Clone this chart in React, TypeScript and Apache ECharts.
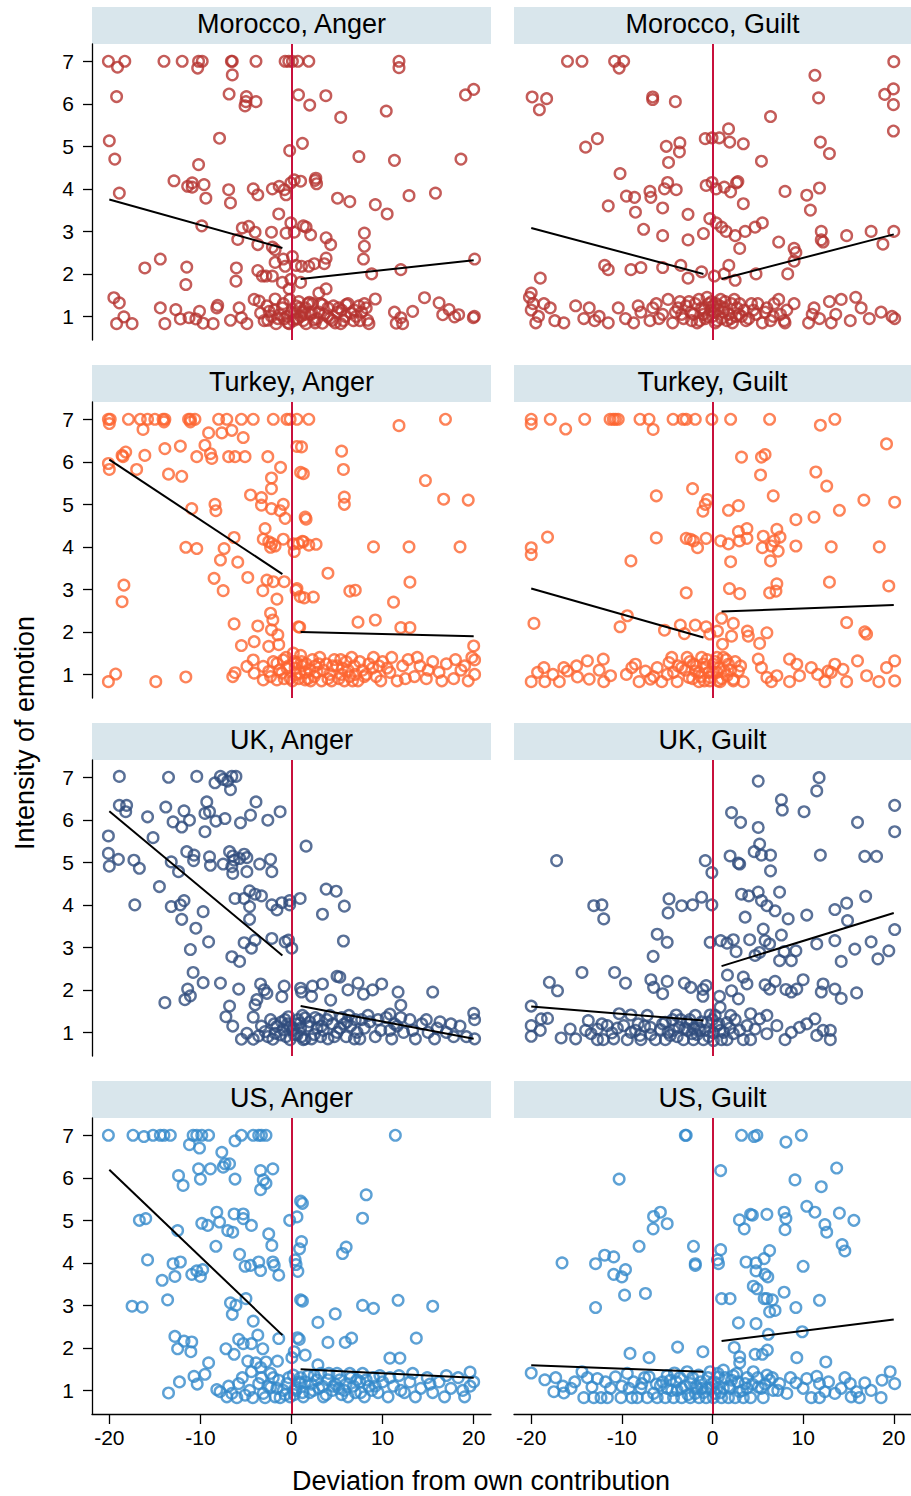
import React, { useEffect, useRef } from "react";
import * as echarts from "echarts";

// Deviation from own contribution (x) vs. intensity of emotion (y), one array per panel
const moroccoAnger: number[][] = [
  [-20.1, 7], [-18.3, 7], [-14, 7], [-12, 7], [-10.2, 7], [-9.8, 7], [-6.6, 7], [-6.5, 7], [-3.9, 7], [-0.7, 7], [-0.3, 7], [0.1, 7], [0.7, 7], [1.9, 7], [11.8, 7],
  [-19.1, 6.86], [-10.3, 6.84], [11.8, 6.85], [-6.5, 6.68],
  [-19.2, 6.17], [-6.85, 6.23], [-4.95, 6.17], [-3.9, 6.05], [-5.1, 5.95], [-5.0, 6.05], [0.77, 6.21], [3.77, 6.19], [2.0, 5.97], [5.4, 5.68], [10.4, 5.83], [19.1, 6.21], [20.0, 6.34],
  [-20.0, 5.13], [-7.9, 5.19], [1.2, 5.07], [-0.2, 4.9], [-19.4, 4.7], [-10.2, 4.57], [7.4, 4.76], [11.3, 4.67], [18.6, 4.7],
  [-18.9, 3.9], [-12.9, 4.19], [-11.4, 4.06], [-10.9, 4.14], [-10.9, 4.04], [-9.6, 4.1], [-9.4, 3.78], [-6.9, 3.98], [-6.7, 3.67], [-4.2, 4.0], [-3.7, 3.86], [-2.1, 4.0], [-1.35, 4.06], [-0.77, 3.98], [-0.6, 3.86], [-0.07, 4.14], [0.3, 4.21], [1.0, 4.18], [2.6, 4.2], [2.75, 4.12], [2.67, 4.25], [5.05, 3.78], [6.4, 3.7], [9.2, 3.63], [10.5, 3.41], [12.9, 3.84], [15.8, 3.9],
  [-1.4, 3.41], [-9.85, 3.13], [-5.4, 3.08], [-4.7, 3.12], [-5.9, 2.81], [-4.0, 2.98], [-2.2, 2.98], [-0.07, 3.2], [-0.6, 2.96], [0.3, 2.98], [1.3, 3.13], [1.6, 3.1], [2.1, 2.92], [3.8, 2.85], [4.3, 2.69], [8.0, 2.96], [8.0, 2.65], [7.9, 2.35], [-3.7, 2.69], [-2.1, 2.63], [-1.8, 2.57],
  [-16.1, 2.14], [-14.4, 2.35], [-11.5, 2.16], [-11.6, 1.75], [-6.05, 2.14], [-6.1, 1.83], [-3.7, 2.08], [-3.2, 1.95], [-2.8, 1.95], [-2.1, 1.95], [-1.8, 2.27], [-0.9, 2.35], [0.1, 2.41], [-0.7, 2.18], [0.5, 2.2], [1.1, 2.18], [1.9, 2.18], [2.5, 2.24], [3.8, 2.37], [3.6, 2.24], [-1.0, 1.8], [-0.07, 1.87], [1.0, 1.8], [-0.26, 1.65], [3.8, 1.65], [3.0, 1.55], [8.8, 2.0], [12.0, 2.1], [20.1, 2.35],
  [-19.5, 1.44], [-18.9, 1.32], [-14.4, 1.2], [-12.7, 1.16], [-10.1, 1.12], [-8.2, 1.2], [-8.1, 1.26], [-5.75, 1.2], [-4.1, 1.4], [-3.55, 1.36], [-1.8, 1.41], [1.95, 1.33], [3.4, 1.28], [6.0, 1.28], [9.2, 1.41], [14.6, 1.44], [16.2, 1.32], [8.2, 1.2], [13.3, 1.12], [17.3, 1.16],
  [-19.2, 0.83], [-18.4, 0.99], [-17.5, 0.83], [-13.9, 0.83], [-12.2, 0.94], [-11.25, 0.97], [-10.5, 0.94], [-9.7, 0.84], [-8.6, 0.83], [-6.7, 0.91], [-5.5, 0.97], [-4.9, 0.83], [-3.4, 1.08], [-2.45, 1.12], [-2.6, 0.91], [-1.7, 0.83], [-1.3, 1.04], [-0.8, 0.94], [-0.26, 0.83], [0.3, 1.08], [0.66, 0.94], [1.2, 1.1], [1.6, 0.83], [2.1, 1.04], [2.5, 0.92], [3.0, 1.1], [3.4, 0.84], [3.95, 1.0], [4.5, 0.91], [5.05, 1.1], [5.4, 0.83], [5.9, 1.0], [6.5, 1.08], [7.1, 1.0], [7.7, 1.1], [8.35, 0.91], [8.5, 0.83], [11.3, 1.1], [11.5, 0.84], [12.2, 0.83], [12.0, 0.97], [16.6, 1.04], [17.9, 0.99], [18.35, 1.04], [19.96, 0.97], [20.07, 1.0],
  [-1, 1.2], [0.5, 1.25], [1.5, 1.2], [2.3, 1.3], [-0.5, 1.0], [0.2, 0.9], [1.0, 1.0], [2.8, 0.95], [4.0, 1.2], [4.8, 0.85], [5.5, 1.15], [6.8, 0.9], [7.4, 1.25], [-1.5, 0.95], [-2.2, 1.0], [-3, 0.9], [0.8, 1.35], [-0.2, 1.4],
  [-2.7, 1.25], [-1.9, 1.15], [-0.9, 1.3], [0.0, 1.1], [0.4, 0.95], [0.9, 1.2], [1.3, 0.9], [1.8, 1.3], [2.2, 1.1], [2.6, 0.85], [3.2, 1.3], [3.6, 1.05], [4.2, 0.95], [4.6, 1.25], [5.2, 1.2], [5.7, 0.9], [6.2, 1.3], [6.9, 1.15], [7.5, 0.9], [8.0, 1.3], [-0.4, 0.85], [1.5, 1.05],
];

const moroccoGuilt: number[][] = [
  [-16.0, 7], [-14.4, 7], [-10.8, 7], [-9.8, 7], [-10.3, 6.84], [20.0, 6.99], [11.3, 6.67],
  [-19.9, 6.16], [-18.3, 6.12], [-19.1, 5.86], [-6.6, 6.16], [-6.6, 6.1], [-4.1, 6.05], [11.7, 6.14], [19.0, 6.22], [19.96, 6.35], [19.96, 5.98], [6.4, 5.7], [19.96, 5.36],
  [-14.0, 4.98], [-12.7, 5.18], [-5.1, 5.0], [-3.6, 5.08], [-3.65, 4.87], [-4.85, 4.62], [-0.8, 5.18], [-0.05, 5.2], [0.75, 5.2], [1.77, 5.41], [1.9, 5.1], [3.4, 5.06], [5.4, 4.65], [11.9, 5.1], [12.9, 4.83],
  [-10.2, 4.36], [-0.7, 4.08], [-0.05, 4.15], [0.4, 4.0], [1.3, 4.04], [2.65, 4.14], [2.8, 4.17], [2.0, 3.93], [8.0, 3.94], [10.4, 3.85], [11.8, 4.02], [-6.9, 3.94], [-4.95, 4.15], [-4.0, 3.98], [-5.3, 4.0], [-9.5, 3.83], [-8.6, 3.8],
  [-11.5, 3.6], [-8.5, 3.45], [-6.8, 3.8], [-5.5, 3.55], [-2.7, 3.4], [-0.3, 3.3], [1.0, 3.1], [3.4, 3.65], [5.5, 3.2], [10.8, 3.5], [12.0, 3.0], [17.5, 3.0], [20.0, 3.0], [18.8, 2.7], [14.8, 2.9],
  [-7.6, 3.05], [-5.5, 2.9], [-2.7, 2.8], [-1.0, 2.95], [0.4, 3.2], [1.5, 3.0], [2.5, 2.9], [3.6, 3.0], [4.7, 3.1], [3.0, 2.6], [7.3, 2.75], [9.0, 2.6], [9.2, 2.5], [12.0, 2.8], [12.2, 2.75], [9.0, 2.3],
  [-20.0, 1.55], [-19.0, 1.9], [-11.9, 2.2], [-11.5, 2.1], [-9.0, 2.1], [-7.9, 2.15], [-5.5, 2.15], [-3.5, 2.2], [-1.2, 2.05], [0.2, 1.95], [1.3, 2.0], [1.8, 2.2], [2.5, 1.85], [4.8, 2.0], [8.3, 2.0], [-2.7, 1.9],
  [-20.2, 1.45], [-19.8, 1.3], [-19.5, 0.85], [-19.2, 1.0], [-18.6, 1.3], [-17.4, 0.9], [-16.4, 0.85], [-15.1, 1.25], [-14.2, 0.95], [-13.6, 1.2], [-12.5, 1.0], [-11.5, 0.85], [-10.4, 1.2], [-9.6, 0.95], [-8.7, 0.85], [-7.9, 1.1], [-6.9, 0.9], [-6.2, 1.3], [-5.5, 1.05], [-4.9, 1.4], [-4.4, 0.85], [-3.8, 1.2], [-3.2, 0.95], [-2.6, 1.35], [-2.1, 1.05], [-1.7, 0.85], [-1.2, 1.2], [-0.8, 0.95], [-0.4, 1.3], [0, 1.0], [0.3, 0.85], [0.6, 1.15], [1.0, 0.95], [1.4, 1.35], [1.8, 1.05], [2.2, 0.85], [2.7, 1.2], [3.2, 1.0], [3.7, 0.9], [4.3, 1.3], [4.8, 1.05], [5.5, 0.85], [6.0, 1.2], [6.7, 1.0], [7.3, 1.4], [7.9, 0.9], [8.2, 1.15], [10.6, 0.85], [11.2, 1.2], [11.8, 0.95], [12.9, 1.35], [13.6, 1.05], [14.2, 1.4], [15.2, 0.9], [16.4, 1.2], [17.3, 0.95], [19.8, 1.0], [20.1, 0.95],
  [-20.0, 1.15], [-17.9, 1.2], [-13.0, 0.9], [-8.2, 1.25], [-5.9, 0.95], [-1.5, 1.4], [-0.2, 1.15], [0.8, 1.25], [2.4, 1.4], [3.5, 1.15], [5.0, 1.3], [6.4, 0.9], [-3.4, 1.05], [-2.3, 0.9], [-1.0, 1.05], [0.4, 1.3], [1.2, 1.1], [2.0, 0.95], [2.9, 1.05], [4.0, 0.95], [-6.6, 1.2], [-4.1, 1.1], [-0.6, 1.45], [0.1, 1.25], [9.0, 1.3], [8.0, 0.85], [11.0, 1.05], [13.1, 0.85], [15.8, 1.45], [18.6, 1.1],
  [-2.9, 1.25], [-2.4, 1.1], [-1.9, 1.3], [-1.4, 0.9], [-0.9, 1.15], [-0.5, 1.0], [-0.1, 1.35], [0.2, 1.1], [0.5, 0.9], [0.9, 1.4], [1.3, 1.2], [1.6, 0.9], [2.1, 1.3], [2.6, 1.0], [3.0, 1.3], [-3.6, 1.35], [4.5, 1.15], [5.8, 1.1], [6.8, 1.3], [7.5, 1.05],
];

const turkeyAnger: number[][] = [
  [-20.1, 7], [-19.9, 7], [-17.9, 7], [-16.6, 7], [-15.8, 7], [-15.0, 7], [-14.1, 7], [-13.9, 7], [-11.3, 7], [-11.1, 7], [-10.6, 7], [-8.0, 7], [-7.1, 7], [-5.5, 7], [-4.2, 7], [-2.0, 7], [-0.5, 7], [-0.15, 7], [0.6, 7], [1.9, 7],
  [-20.0, 6.9], [-16.3, 6.76], [-14.0, 6.94], [-11.1, 6.94], [-9.1, 6.68], [-7.65, 6.68], [-6.55, 6.74], [-5.3, 6.57], [-9.5, 6.39],
  [-18.6, 6.15], [-18.2, 6.23], [-18.5, 6.12], [-16.1, 6.15], [-13.9, 6.31], [-12.2, 6.37], [-10.4, 6.12], [-8.9, 6.19], [-8.75, 6.08], [-6.9, 6.12], [-6.2, 6.12], [-5.1, 6.12], [-2.6, 6.12], [-20.1, 5.96], [-20.0, 5.82], [-17.0, 5.82], [-13.5, 5.71], [-12.05, 5.66], [-1.2, 5.87], [-2.2, 5.62], [-2.2, 5.37], [-4.5, 5.22], [-3.3, 5.16], [-3.3, 4.98], [-2.2, 4.9], [-0.9, 5.0], [-1.25, 4.85], [-0.7, 4.67], [-10.95, 4.9], [-8.4, 5.0], [-8.3, 4.85],
  [-2.9, 4.43], [-3.1, 4.18], [-2.5, 4.12], [-2.16, 4.08], [-1.8, 4.02], [-0.9, 4.18], [-2.3, 3.99], [0.2, 4.07], [0.3, 3.89], [-6.3, 4.22], [-7.4, 3.96], [-7.8, 3.69], [-5.9, 3.64], [-11.6, 3.99], [-10.4, 3.96], [-8.5, 3.26], [-7.5, 2.97], [-4.8, 3.28], [-2.7, 3.22], [-2.0, 3.18], [-0.8, 3.18], [-3.15, 2.97], [-1.6, 2.77], [-18.4, 3.1], [-18.6, 2.71],
  [1.1, 6.35], [1.3, 5.72], [1.5, 4.7], [0.77, 4.08], [1.3, 4.12], [1.9, 4.04], [0.6, 3.02], [0.95, 2.83], [0.77, 2.12],
  [0.6, 6.36], [5.5, 6.25], [5.7, 5.82], [1.0, 5.75], [11.8, 6.85], [16.9, 7.0], [5.8, 5.17], [5.8, 5.0], [14.7, 5.56], [16.7, 5.12], [19.4, 5.1],
  [1.2, 4.13], [2.7, 4.06], [1.6, 4.65], [4.0, 3.38], [0.5, 2.98], [1.4, 2.8], [2.4, 2.82], [6.4, 2.96], [7.0, 2.98], [9.0, 4.0], [12.9, 4.0], [18.5, 4.0], [13.0, 3.17], [11.2, 2.7], [9.2, 2.28], [7.3, 2.23], [12.0, 2.1], [13.0, 2.1], [20.0, 1.67], [20.1, 1.34],
  [-6.3, 2.19], [-3.7, 2.14], [-2.3, 2.44], [-2.05, 2.28], [-2.2, 2.05], [-1.5, 1.93], [0.9, 2.11], [-5.5, 1.68], [-4.1, 1.77], [-2.5, 1.66], [-1.4, 1.7],
  [-20.1, 0.83], [-19.3, 1.01], [-14.9, 0.83], [-11.6, 0.94], [-6.45, 0.95], [-6.2, 1.04], [-4.9, 1.19], [-4.2, 1.34], [-4.1, 1.03], [-3.1, 1.19], [-2.5, 1.07], [-1.6, 1.26], [-0.9, 1.34], [-1.6, 0.87], [-1.06, 1.03], [-0.5, 1.15], [-0.15, 0.91], [0.2, 1.5], [0.6, 1.27], [0.95, 1.03], [1.5, 0.87], [-2.3, 0.95], [-3.1, 0.87],
  [1.2, 1.2], [1.8, 0.9], [2.3, 1.35], [2.8, 1.05], [3.3, 0.85], [3.8, 1.25], [4.2, 1.0], [4.7, 1.35], [5.2, 0.9], [5.6, 1.15], [6.0, 1.3], [6.4, 0.95], [6.9, 1.2], [7.3, 0.85], [7.8, 1.1], [8.5, 1.25], [9.3, 0.95], [10.0, 1.3], [10.8, 1.05], [11.6, 0.85], [12.2, 1.2], [12.8, 1.35], [13.5, 0.95], [14.1, 1.2], [14.8, 0.9], [15.5, 1.3], [16.2, 1.05], [17.0, 1.25], [17.8, 0.9], [18.6, 1.1], [19.4, 0.85], [19.8, 1.4], [20.1, 1.0],
  [1.0, 1.45], [2.0, 1.1], [3.0, 1.25], [4.0, 0.9], [5.0, 1.2], [5.8, 0.85], [6.6, 1.4], [7.5, 1.3], [8.0, 0.95], [8.9, 1.15], [9.8, 0.85], [11.0, 1.4], [12.5, 0.9], [13.8, 1.4], [15.0, 1.1], [16.5, 0.85], [18.0, 1.35], [19.0, 1.2], [0.5, 1.0], [0.3, 1.3], [1.5, 1.05], [2.5, 0.95], [3.5, 1.1], [4.5, 1.2], [5.5, 1.0], [6.2, 1.1], [7.0, 1.0], [9.0, 1.4], [10.5, 1.15],
  [0.1, 0.85], [0.4, 1.15], [0.8, 0.9], [1.1, 1.3], [1.6, 1.25], [2.1, 0.85], [2.6, 1.2], [-0.3, 1.2], [-0.8, 0.9], [-1.3, 1.1], [-2.0, 1.3], [-0.6, 1.4], [3.1, 1.4], [4.4, 0.85], [5.4, 1.35], [6.7, 0.85], [8.2, 1.0], [9.6, 1.2],
];

const turkeyGuilt: number[][] = [
  [-20.0, 7], [-20.0, 6.89], [-17.9, 7], [-16.2, 6.77], [-14.1, 7], [-11.3, 7], [-10.95, 7], [-10.7, 7], [-10.4, 7], [-8.0, 7], [-7.0, 7], [-6.55, 6.76], [-4.35, 7], [-3.26, 7], [-2.9, 7], [-1.9, 7], [-0.07, 7], [2.0, 7], [6.3, 7], [11.9, 6.86], [13.5, 7],
  [19.2, 6.42], [3.2, 6.11], [5.4, 6.11], [5.8, 6.17], [5.3, 5.69], [11.4, 5.76], [12.6, 5.43],
  [-6.2, 5.2], [-2.2, 5.37], [-0.55, 5.11], [-0.8, 5.0], [-1.06, 4.84], [1.76, 4.86], [2.86, 4.97], [6.7, 5.2], [9.2, 4.64], [11.2, 4.7], [14.0, 4.86], [16.7, 5.1], [20.1, 5.05],
  [-18.2, 4.23], [-20.0, 3.98], [-20.0, 3.82], [-6.2, 4.21], [-9.0, 3.67], [-2.9, 4.2], [-2.45, 4.18], [-2.1, 4.14], [-1.65, 3.98], [-0.7, 4.2], [0.9, 4.14], [1.76, 4.07], [2.86, 4.36], [3.8, 4.43], [3.8, 4.2], [2.97, 4.14], [5.6, 4.25], [5.5, 3.98], [6.5, 4.02], [7.1, 4.41], [7.45, 4.23], [7.25, 3.9], [6.8, 4.14], [6.4, 3.67], [2.0, 3.65], [9.2, 4.02], [13.1, 4.0], [18.4, 4.0],
  [-2.9, 2.92], [1.87, 3.02], [3.0, 2.9], [6.3, 2.92], [7.1, 3.13], [7.0, 2.96], [12.9, 3.17], [19.45, 3.08],
  [-19.7, 2.2], [-9.4, 2.38], [-10.2, 2.12], [-5.3, 2.04], [-3.55, 2.16], [-3.1, 1.96], [-1.9, 2.16], [-0.7, 2.12], [1.0, 2.32], [0.55, 2.02], [-0.3, 1.95], [2.3, 2.2], [2.1, 1.9], [1.1, 1.71], [3.85, 2.02], [3.95, 1.9], [6.0, 1.98], [5.2, 1.73], [14.8, 2.22], [16.8, 2.0], [17.0, 1.95],
  [-20.0, 0.83], [-19.3, 1.05], [-18.6, 1.16], [-18.5, 0.83], [-16.9, 0.83], [-16.4, 1.16], [-16.0, 1.08], [-14.9, 0.94], [-13.8, 1.32], [-13.6, 0.89], [-12.05, 1.36], [-12.0, 0.83], [-11.25, 0.97], [-8.9, 1.16], [-8.5, 1.24], [-8.1, 0.83], [-7.4, 1.08], [-6.85, 0.89], [-6.1, 1.16], [-5.6, 0.83], [-4.8, 1.28], [-4.3, 1.05], [-3.9, 0.83], [-3.4, 1.16], [-2.8, 1.4], [-2.6, 0.93], [-1.9, 1.08], [-1.5, 0.83], [-1.2, 1.4], [-0.8, 1.16], [-0.26, 0.93], [0.1, 1.24], [0.5, 1.4], [0.84, 0.83], [1.3, 1.08], [1.76, 1.24], [2.3, 0.89], [2.86, 1.08], [3.4, 0.83], [-2.1, 1.24], [-1.5, 1.05], [-0.44, 1.05], [0.5, 1.05], [1.6, 0.97],
  [5.05, 1.36], [5.4, 1.16], [6.0, 0.93], [6.5, 0.83], [7.1, 0.97], [8.5, 1.36], [9.3, 1.24], [9.6, 0.97], [10.9, 1.16], [11.6, 1.0], [12.4, 0.83], [13.5, 1.24], [14.4, 1.12], [14.8, 0.83], [16.0, 1.32], [17.0, 0.97], [18.35, 0.83], [19.2, 1.16], [20.1, 1.32], [20.1, 0.85], [13.1, 1.05], [12.75, 1.08], [8.5, 0.83],
  [-3.0, 1.1], [-2.5, 1.3], [-2.2, 0.9], [-1.8, 1.2], [-1.3, 0.95], [-1.0, 1.25], [-0.6, 1.35], [-0.3, 0.85], [0.0, 1.05], [0.3, 1.3], [0.7, 1.15], [1.0, 0.9], [1.5, 1.35], [2.0, 1.1], [2.5, 1.3], [3.1, 1.2], [-3.8, 1.2], [-5.0, 1.0], [-6.5, 0.95], [-9.5, 1.0], [-12.5, 1.1], [-15.0, 1.2], [-17.6, 1.0], [-4.5, 1.4], [-0.9, 0.85], [0.6, 0.85], [2.3, 0.85], [1.2, 1.4],
];

const ukAnger: number[][] = [
  [-18.9, 7.02], [-13.5, 7.0], [-10.4, 7.02], [-7.8, 7.02], [-7.5, 6.95], [-8.4, 6.87], [-7.0, 6.91], [-6.55, 7.02], [-6.1, 7.02], [-6.7, 6.71],
  [-18.9, 6.34], [-18.1, 6.34], [-18.2, 6.19], [-15.8, 6.07], [-13.8, 6.3], [-11.8, 6.21], [-13.0, 5.95], [-12.05, 5.83], [-11.2, 5.99], [-9.3, 6.42], [-9.5, 6.15], [-9.0, 6.19], [-8.3, 5.97], [-9.5, 5.72], [-7.3, 6.03], [-5.6, 5.93], [-4.5, 6.11], [-3.9, 6.42], [-2.6, 5.99], [-1.25, 6.19], [-20.1, 5.62], [-15.2, 5.58],
  [-20.1, 5.21], [-20.0, 4.91], [-19.0, 5.07], [-17.3, 5.05], [-16.7, 4.86], [-11.5, 5.25], [-10.7, 5.17], [-10.75, 5.04], [-13.2, 5.01], [-12.4, 4.78], [-9.0, 5.13], [-8.9, 4.93], [-7.5, 4.96], [-6.8, 5.25], [-6.45, 5.15], [-6.55, 4.9], [-6.3, 5.05], [-6.45, 4.74], [-5.7, 5.09], [-5.2, 5.19], [-4.9, 5.11], [-4.9, 4.78], [-3.5, 4.96], [-2.3, 5.07], [-2.16, 4.78], [1.6, 5.38],
  [-14.5, 4.43], [-17.2, 4.0], [-13.2, 3.96], [-12.2, 4.0], [-11.8, 4.1], [-12.05, 3.66], [-9.7, 3.84], [-10.5, 3.45], [-11.1, 2.95], [-9.1, 3.13], [-6.2, 4.15], [-5.2, 4.15], [-4.6, 4.33], [-4.0, 4.25], [-3.3, 4.21], [-4.6, 3.96], [-4.6, 3.66], [-2.16, 4.0], [-1.6, 3.88], [-1.06, 4.05], [-0.2, 4.1], [-0.2, 4.0], [0.95, 4.15], [-5.2, 3.11], [-4.4, 2.98], [-4.0, 3.17], [-2.16, 3.21], [-6.55, 2.78], [-5.7, 2.67], [-0.7, 3.13], [-0.33, 3.17], [0.03, 2.98],
  [-10.8, 2.41], [-9.7, 2.17], [-7.8, 2.16], [-5.8, 2.02], [-11.4, 2.02], [-11.1, 1.86], [-11.7, 1.77], [-13.9, 1.7], [-3.4, 2.14], [-2.7, 1.92], [-3.0, 2.0], [-1.06, 1.84], [-0.8, 2.09], [-3.8, 1.77], [-4.0, 1.65], [-6.8, 1.62], [-7.2, 1.37], [-6.45, 1.15], [-4.2, 1.36], [1.0, 2.04],
  [-5.5, 0.84], [-4.9, 0.98], [-4.2, 0.84], [-3.6, 0.92], [-2.9, 1.02], [-2.3, 1.3], [-2.05, 0.84], [-1.6, 1.14], [-1.25, 0.94], [-0.7, 1.3], [-0.33, 1.37], [-0.15, 0.83], [0.22, 1.1], [0.6, 0.94], [0.95, 1.22], [1.5, 1.34], [1.3, 0.83], [-1.8, 0.98], [-0.9, 1.06], [-0.2, 1.14],
  [3.8, 4.37], [4.9, 4.32], [5.8, 3.97], [3.4, 3.78], [5.7, 3.15], [1.1, 1.95], [2.3, 2.09], [3.4, 2.14], [5.3, 2.3], [6.2, 2.0], [7.3, 2.16], [8.9, 2.0], [9.9, 2.14], [11.7, 1.95], [12.0, 1.64], [15.5, 1.95], [2.2, 1.85], [4.3, 1.76], [5.0, 2.32], [7.9, 1.9], [10.8, 1.43],
  [1.0, 1.1], [1.5, 0.85], [2.0, 1.25], [2.5, 0.95], [3.0, 1.3], [3.5, 1.05], [4.0, 0.85], [4.5, 1.2], [5.0, 1.0], [5.5, 1.35], [6.0, 0.9], [6.5, 1.15], [7.0, 1.3], [7.5, 0.85], [8.0, 1.1], [8.6, 1.25], [9.2, 0.9], [9.8, 1.05], [10.4, 1.35], [11.0, 0.85], [11.6, 1.15], [12.3, 1.0], [13.0, 1.3], [13.6, 0.85], [14.3, 1.2], [15.0, 1.0], [15.7, 0.85], [16.3, 1.25], [17.0, 1.0], [17.8, 0.9], [18.5, 1.15], [19.2, 0.9], [20.0, 1.45], [20.1, 1.3], [20.1, 0.85],
  [1.2, 1.4], [2.8, 1.1], [4.2, 1.4], [5.8, 1.2], [7.2, 1.0], [8.4, 1.4], [9.5, 1.3], [10.8, 1.05], [12.0, 1.35], [13.3, 1.05], [14.8, 1.3], [16.0, 1.1], [17.5, 1.2], [0.5, 1.2], [0.3, 0.95], [3.2, 0.9], [6.3, 1.4], [11.3, 1.2],
  [0.1, 1.05], [0.7, 1.3], [1.1, 0.9], [1.8, 1.15], [2.2, 0.85], [2.6, 1.35], [3.3, 1.15], [3.9, 1.3], [4.7, 0.9], [5.3, 1.1], [6.1, 1.25], [6.9, 0.85], [7.7, 1.3], [-0.6, 0.9], [-1.1, 1.25], [-1.9, 1.2], [-2.6, 0.9], [-3.3, 1.15], [-0.4, 1.2],
];

const ukGuilt: number[][] = [
  [5.05, 6.91], [11.76, 6.99], [11.5, 6.68], [7.6, 6.47], [7.7, 6.23], [10.1, 6.19], [20.1, 6.34], [2.1, 6.17], [3.1, 5.94], [5.05, 5.82], [16.0, 5.94], [20.1, 5.72], [5.2, 5.43], [4.6, 5.25], [5.4, 5.17], [6.4, 5.17], [1.94, 5.15], [2.86, 4.98], [3.0, 4.96], [6.4, 4.8], [11.9, 5.17], [16.8, 5.14], [18.1, 5.14], [-17.2, 5.04], [-0.8, 5.04], [-0.07, 4.76],
  [-13.1, 3.98], [-12.2, 4.0], [-12.0, 3.67], [-4.8, 4.14], [-4.9, 3.81], [-3.4, 3.98], [-2.2, 4.0], [-1.2, 4.18], [-0.07, 4.0], [3.2, 4.25], [4.0, 4.21], [5.05, 4.3], [5.4, 4.1], [6.0, 3.98], [6.9, 3.86], [7.4, 4.3], [3.6, 3.71], [8.35, 3.67], [10.4, 3.76], [13.5, 3.89], [14.8, 4.04], [16.9, 4.2], [14.9, 3.63], [-6.1, 3.31], [-5.0, 3.12], [-6.55, 2.79], [-0.26, 3.12], [0.9, 3.16], [1.6, 3.1], [2.3, 3.18], [2.6, 2.9], [4.1, 3.18], [4.7, 2.81], [5.6, 3.43], [5.8, 3.16], [6.3, 3.08], [5.2, 2.88], [7.6, 3.29], [7.9, 2.9], [7.4, 2.69], [8.7, 2.69], [9.2, 2.92], [11.5, 3.08], [13.5, 3.16], [15.7, 2.96], [14.2, 2.67], [17.5, 3.13], [18.25, 2.73], [19.45, 2.92], [20.1, 3.42],
  [-14.4, 2.41], [-18.0, 2.18], [-17.1, 1.98], [-10.8, 2.41], [-9.6, 2.16], [-6.8, 2.24], [-6.5, 2.06], [-5.5, 1.91], [-5.0, 2.2], [-3.1, 2.16], [-2.4, 2.06], [-1.06, 2.01], [-0.7, 2.1], [-1.06, 1.85], [1.65, 2.35], [3.4, 2.3], [3.8, 2.14], [0.77, 1.85], [2.1, 1.98], [2.86, 1.79], [0.84, 1.59], [5.8, 2.12], [6.9, 2.2], [6.3, 2.02], [8.1, 2.01], [8.7, 1.95], [9.3, 2.02], [10.0, 2.24], [12.2, 2.14], [12.0, 1.95], [13.5, 2.02], [14.2, 1.8], [15.9, 1.93], [4.2, 1.44],
  [-20.0, 1.62], [-20.0, 1.16], [-20.0, 0.91], [-18.9, 1.32], [-18.2, 1.33], [-19.0, 1.05], [-16.7, 0.87], [-15.7, 1.08], [-15.1, 0.85], [-13.7, 1.28], [-13.4, 0.97], [-12.7, 1.08], [-12.05, 0.83], [-11.6, 1.16], [-11.1, 0.99], [-10.3, 1.44], [-9.8, 1.16], [-9.4, 0.83], [-9.0, 1.41], [-8.5, 1.05], [-8.0, 0.93], [-7.2, 1.4], [-6.85, 1.12], [-6.3, 0.83], [-5.75, 1.07], [-5.2, 1.24], [-4.65, 0.93], [-4.0, 1.41], [-3.7, 1.12], [-3.2, 0.83], [-2.8, 1.24], [-2.27, 0.97], [-1.9, 1.4], [-1.54, 1.1], [-1.0, 0.83], [-0.6, 1.24], [-0.26, 1.41], [0.1, 0.99], [0.5, 1.16], [1.0, 0.83], [1.6, 1.23], [2.0, 1.4], [2.3, 0.97], [3.4, 0.83], [3.8, 1.16], [4.2, 0.83], [4.7, 1.08], [5.2, 1.32], [6.0, 1.4], [6.0, 0.97], [7.1, 1.16], [8.0, 0.83], [8.7, 1.0], [9.6, 1.12], [10.4, 1.2], [11.3, 1.32], [11.5, 0.93], [12.2, 1.05], [13.0, 0.83], [13.0, 1.05],
  [-12.7, 0.83], [-10.9, 0.85], [-7.9, 0.83], [-5.2, 0.83], [-2.1, 0.83], [0.1, 0.81], [1.6, 0.83], [-4.3, 1.05], [-2.8, 1.05], [-1.35, 1.05], [0.84, 1.05],
  [-5.5, 1.2], [-4.9, 1.0], [-4.4, 1.3], [-3.9, 0.9], [-3.5, 1.3], [-3.0, 1.1], [-2.5, 1.3], [-2.1, 1.1], [-1.7, 0.95], [-1.2, 1.25], [-0.8, 1.05], [-0.4, 0.9], [0.0, 1.3], [0.3, 1.4], [0.7, 1.2], [1.2, 1.0], [1.9, 1.1], [2.5, 1.3], [3.0, 1.05], [-8.2, 1.2], [-9.0, 1.0], [-10.5, 1.1], [-12.2, 1.2], [-14.0, 1.05], [-6.8, 0.95], [-7.5, 1.15],
];

const usAnger: number[][] = [
  [-20.1, 7.0], [-17.4, 7.0], [-16.2, 6.97], [-15.2, 7.0], [-14.4, 7.0], [-14.0, 7.0], [-13.3, 7.0], [-10.8, 7.0], [-10.4, 7.0], [-9.85, 7.0], [-9.1, 7.0], [-5.5, 7.0], [-4.2, 7.0], [-3.6, 7.0], [-3.3, 7.0], [-2.8, 7.0], [-11.2, 6.78], [-10.1, 6.7], [-6.2, 6.87], [-7.65, 6.6],
  [-7.3, 6.33], [-6.8, 6.33], [-7.5, 6.25], [-10.2, 6.21], [-10.0, 5.97], [-8.9, 6.21], [-12.4, 6.05], [-11.9, 5.82], [-6.2, 5.97], [-3.4, 6.17], [-2.05, 6.21], [-3.1, 5.95], [-2.8, 5.87], [-3.4, 5.72], [1.0, 5.45],
  [-16.7, 5.0], [-16.0, 5.04], [-12.5, 4.76], [-9.85, 4.93], [-9.2, 4.88], [-8.2, 5.19], [-7.9, 4.96], [-7.0, 4.76], [-6.45, 4.72], [-6.3, 5.15], [-5.3, 5.15], [-5.3, 5.04], [-4.4, 4.88], [-2.5, 4.68], [-2.16, 4.41], [-8.3, 4.39], [-0.2, 5.0], [0.6, 5.08], [0.88, 4.33],
  [-15.8, 4.07], [-13.0, 3.98], [-12.2, 4.02], [-12.8, 3.68], [-14.2, 3.59], [-13.6, 3.13], [-10.95, 3.73], [-10.4, 3.81], [-9.75, 3.84], [-10.0, 3.68], [-5.7, 4.2], [-5.1, 3.92], [-4.5, 3.94], [-3.6, 4.02], [-3.4, 3.82], [-2.05, 4.02], [-1.9, 3.94], [-1.4, 3.71], [0.4, 4.07], [0.5, 3.96], [1.0, 3.13], [-17.5, 2.98], [-16.4, 2.96], [-6.7, 3.06], [-6.1, 3.0], [-6.5, 2.79], [-5.0, 3.16], [-4.2, 2.63],
  [-12.8, 2.27], [-12.5, 1.98], [-11.8, 2.16], [-10.95, 2.14], [-11.05, 1.91], [-9.1, 1.65], [-7.2, 1.98], [-6.3, 1.85], [-5.8, 2.2], [-5.3, 2.1], [-4.4, 2.1], [-3.7, 2.3], [-3.15, 1.98], [-4.8, 1.69], [-3.9, 1.65], [-3.4, 1.54], [-2.8, 1.67], [-1.54, 1.69], [-1.4, 2.22], [0.66, 2.24], [0.3, 1.91], [0.04, 1.77],
  [-13.5, 0.94], [-12.3, 1.2], [-10.7, 1.33], [-10.35, 1.15], [-9.5, 1.38], [-8.2, 1.02], [-6.9, 1.1], [-6.55, 0.93], [-5.8, 1.16], [-5.1, 0.89], [-4.4, 1.44], [-3.6, 1.16], [-3.1, 0.93], [-2.3, 1.4], [-2.3, 1.07], [-1.8, 0.85], [-1.4, 1.24], [-0.9, 1.0], [-0.5, 1.16], [-0.15, 0.85], [0.2, 1.36], [0.5, 1.0], [0.95, 1.16], [1.3, 0.85], [-7.1, 0.85], [-6.0, 0.83], [-4.25, 0.83], [-2.9, 0.83], [-1.25, 0.83], [-7.85, 0.97],
  [1.2, 5.4], [1.1, 4.5], [0.7, 3.8], [1.2, 3.1], [0.85, 2.2], [11.4, 7.0], [8.2, 5.6], [7.8, 5.05], [6.0, 4.37], [5.6, 4.22], [2.9, 2.6], [4.8, 2.8], [7.8, 3.0], [9.0, 2.93], [11.7, 3.12], [15.5, 2.98], [6.6, 2.23], [4.0, 2.13], [5.9, 2.13], [13.7, 2.23], [2.9, 1.6], [10.8, 1.76], [11.9, 1.76], [19.6, 1.43], [1.5, 1.83],
  [1.5, 1.2], [2.0, 0.95], [2.5, 1.35], [3.0, 1.05], [3.5, 0.85], [4.0, 1.25], [4.5, 1.0], [5.0, 1.4], [5.5, 0.9], [6.0, 1.15], [6.5, 1.3], [7.0, 0.95], [7.5, 1.2], [8.0, 0.85], [8.5, 1.1], [9.0, 1.3], [9.5, 0.95], [10.0, 1.2], [10.6, 0.85], [11.2, 1.1], [11.8, 1.35], [12.4, 0.95], [13.0, 1.2], [13.6, 0.85], [14.2, 1.05], [14.9, 1.3], [15.5, 0.95], [16.2, 1.2], [16.8, 0.85], [17.5, 1.05], [18.3, 1.3], [19.0, 0.85], [19.6, 1.1], [20.0, 1.2],
  [3.2, 1.4], [4.8, 1.15], [6.2, 0.85], [7.8, 1.4], [9.2, 1.1], [10.8, 1.3], [12.0, 1.0], [13.3, 1.4], [15.2, 1.15], [17.0, 1.35], [18.8, 1.0], [1.0, 1.3], [2.2, 1.15], [3.8, 0.9], [5.2, 1.05], [6.8, 1.1], [8.2, 1.25], [0.4, 1.05],
  [0.3, 0.9], [0.8, 1.2], [1.2, 0.95], [1.8, 1.35], [2.4, 1.0], [2.8, 1.25], [3.4, 1.1], [4.1, 1.4], [4.6, 1.1], [5.3, 1.25], [5.8, 1.0], [6.4, 1.4], [7.2, 1.25], [7.6, 0.95], [8.8, 1.0], [9.7, 1.35], [-0.3, 1.3], [-0.7, 0.9], [-1.6, 1.05], [-2.0, 1.3], [-2.6, 1.1], [-3.3, 1.3], [-4.6, 1.0], [-5.4, 1.3],
];

const usGuilt: number[][] = [
  [-3.0, 7.0], [-2.9, 7.0], [3.2, 7.0], [4.6, 6.97], [4.9, 7.0], [8.1, 6.84], [9.8, 7.0],
  [0.9, 6.17], [-10.3, 5.97], [13.7, 6.23], [9.1, 5.95], [12.0, 5.79],
  [-6.5, 5.09], [-5.75, 5.19], [-5.0, 4.92], [-6.55, 4.8], [2.97, 5.01], [3.5, 4.8], [4.2, 5.14], [4.4, 5.12], [6.0, 5.14], [7.9, 5.19], [8.1, 5.04], [8.0, 4.78], [10.4, 5.33], [11.3, 5.19], [12.4, 4.9], [12.6, 4.72], [14.0, 5.17], [15.6, 5.0],
  [-8.1, 4.39], [-2.1, 4.39], [0.9, 4.31], [0.55, 4.07], [0.66, 3.98], [-1.9, 3.98], [-1.9, 3.94], [-16.6, 4.0], [-12.9, 3.98], [-11.9, 4.18], [-10.9, 4.14], [-9.6, 3.84], [-10.9, 3.73], [-10.0, 3.67], [3.7, 4.02], [4.8, 4.0], [5.7, 4.1], [6.3, 4.29], [4.8, 3.81], [5.8, 3.73], [6.1, 3.67], [14.3, 4.43], [14.6, 4.28], [10.0, 3.92], [4.5, 3.45], [4.9, 3.39], [5.7, 3.16], [6.0, 3.16], [6.6, 3.13], [6.3, 2.85], [6.9, 2.88], [7.9, 3.31], [9.2, 2.95], [11.8, 3.12], [1.0, 3.16], [1.94, 3.16], [-9.7, 3.24], [-7.4, 3.28], [-12.9, 2.95],
  [2.86, 2.59], [4.8, 2.57], [6.15, 2.32], [9.9, 2.38], [-3.85, 2.02], [-1.06, 1.91], [-9.1, 1.87], [-7.0, 1.77], [2.4, 2.01], [3.0, 1.79], [3.0, 1.65], [4.7, 1.85], [5.5, 1.85], [6.05, 1.95], [9.3, 1.77], [12.5, 1.67],
  [-20.0, 1.41], [-17.3, 1.3], [-14.4, 1.44], [-17.5, 0.97], [-16.4, 0.94], [-15.6, 1.05], [-14.2, 0.83], [-13.3, 1.08], [-12.7, 1.28], [-12.3, 0.83], [-11.25, 1.05], [-10.7, 1.32], [-10.1, 0.83], [-9.4, 1.4], [-9.2, 1.05], [-8.3, 0.83], [-7.8, 1.16], [-7.0, 1.32], [-6.5, 0.93], [-5.75, 1.12], [-5.2, 0.83], [-4.65, 1.24], [-4.2, 1.41], [-3.9, 1.0], [-3.4, 0.83], [-2.8, 1.44], [-2.45, 1.16], [-1.9, 0.93], [-1.54, 1.36], [-1.2, 1.05], [-0.7, 0.83], [-0.26, 1.44], [-0.07, 1.16], [0.3, 0.93], [0.66, 1.32], [1.2, 1.48], [1.2, 1.05], [1.76, 0.83], [2.1, 1.24], [2.67, 1.4], [3.0, 0.97], [3.6, 1.16], [4.2, 0.83], [4.5, 1.44], [5.05, 1.08], [5.6, 0.83], [6.0, 1.36], [6.3, 1.24], [6.7, 1.0], [7.4, 1.16], [8.2, 0.93], [9.2, 1.18], [10.4, 1.28], [10.9, 0.83], [11.5, 1.33], [11.8, 1.16], [11.8, 0.83], [12.4, 0.97], [13.5, 0.93], [14.2, 1.05], [15.2, 1.16], [15.3, 0.85], [15.9, 0.97], [16.2, 0.83], [16.8, 1.18], [18.6, 0.83], [18.7, 1.24], [19.6, 1.44], [20.1, 1.16],
  [-13.1, 0.83], [-11.6, 0.83], [-8.9, 0.83], [-7.2, 0.83], [-6.1, 0.83], [-4.3, 0.83], [-2.45, 0.83], [-1.5, 0.83], [0.1, 0.83], [1.0, 0.83], [2.5, 0.83], [3.4, 0.83], [-7.9, 1.05], [-5.0, 1.05], [-3.4, 1.05], [-1.7, 1.05], [-0.6, 1.05], [0.5, 1.05], [1.9, 1.05], [3.8, 1.05], [5.4, 1.05],
  [-5.5, 1.2], [-5.0, 1.35], [-4.5, 1.0], [-4.0, 1.2], [-3.6, 1.3], [-3.1, 1.1], [-2.7, 0.9], [-2.2, 1.3], [-1.8, 1.1], [-1.3, 1.2], [-1.0, 0.95], [-0.5, 1.3], [-0.2, 1.05], [0.2, 1.2], [0.6, 1.4], [0.9, 0.95], [1.4, 1.3], [1.8, 1.1], [2.3, 1.35], [2.8, 1.2], [3.3, 1.0], [3.8, 1.3], [4.4, 1.15], [5.0, 1.3], [5.8, 1.15], [6.6, 1.3], [7.2, 1.0], [-6.2, 1.15], [-7.5, 1.3], [-8.7, 1.2], [-10.0, 1.1], [-11.8, 1.2], [-13.8, 1.3], [-15.2, 1.2], [-16.5, 1.1], [-18.5, 1.25], [8.6, 1.3], [10.0, 1.05], [12.8, 1.2], [14.6, 1.3], [17.5, 1.0],
];

// Fitted lines below and above own contribution (endpoints in data units)
const moroccoAngerFitNeg = [[-20, 3.75], [-1, 2.61]];
const moroccoAngerFitPos = [[1, 1.88], [20, 2.32]];
const moroccoGuiltFitNeg = [[-20, 3.08], [-1, 2.0]];
const moroccoGuiltFitPos = [[1, 1.88], [20, 2.93]];
const turkeyAngerFitNeg = [[-20, 6.05], [-1, 3.36]];
const turkeyAngerFitPos = [[1, 2.0], [20, 1.9]];
const turkeyGuiltFitNeg = [[-20, 3.02], [-1, 1.87]];
const turkeyGuiltFitPos = [[1, 2.48], [20, 2.63]];
const ukAngerFitNeg = [[-20, 6.2], [-1, 2.81]];
const ukAngerFitPos = [[1, 1.62], [20, 0.85]];
const ukGuiltFitNeg = [[-20, 1.61], [-1, 1.28]];
const ukGuiltFitPos = [[1, 2.56], [20, 3.81]];
const usAngerFitNeg = [[-20, 6.19], [-1, 2.3]];
const usAngerFitPos = [[1, 1.5], [20, 1.3]];
const usGuiltFitNeg = [[-20, 1.59], [-1, 1.44]];
const usGuiltFitPos = [[1, 2.16], [20, 2.67]];

const xTicks = [-20, -10, 0, 10, 20];
const yTicks = [1, 2, 3, 4, 5, 6, 7];

const countryColors = {
  Morocco: "#b5332f",
  Turkey: "#fd6430",
  UK: "#304c7d",
  US: "#3589cb",
};

const FONT = '"Liberation Sans", Arial, Helvetica, sans-serif';
const ZERO_LINE = "#c8103c";
const STRIP = "#d9e6ec";

const panels = [
  { title: "Morocco, Anger", data: moroccoAnger, neg: moroccoAngerFitNeg, pos: moroccoAngerFitPos, color: countryColors.Morocco, row: 0, col: 0 },
  { title: "Morocco, Guilt", data: moroccoGuilt, neg: moroccoGuiltFitNeg, pos: moroccoGuiltFitPos, color: countryColors.Morocco, row: 0, col: 1 },
  { title: "Turkey, Anger", data: turkeyAnger, neg: turkeyAngerFitNeg, pos: turkeyAngerFitPos, color: countryColors.Turkey, row: 1, col: 0 },
  { title: "Turkey, Guilt", data: turkeyGuilt, neg: turkeyGuiltFitNeg, pos: turkeyGuiltFitPos, color: countryColors.Turkey, row: 1, col: 1 },
  { title: "UK, Anger", data: ukAnger, neg: ukAngerFitNeg, pos: ukAngerFitPos, color: countryColors.UK, row: 2, col: 0 },
  { title: "UK, Guilt", data: ukGuilt, neg: ukGuiltFitNeg, pos: ukGuiltFitPos, color: countryColors.UK, row: 2, col: 1 },
  { title: "US, Anger", data: usAnger, neg: usAngerFitNeg, pos: usAngerFitPos, color: countryColors.US, row: 3, col: 0 },
  { title: "US, Guilt", data: usGuilt, neg: usGuiltFitNeg, pos: usGuiltFitPos, color: countryColors.US, row: 3, col: 1 },
];

const ROW_STEP = 358;
const PLOT_TOP = 44;
const PLOT_H = 296;
const STRIP_TOP = 7;
const colLeft = [92, 514];
const colWidth = [399, 397];

function buildOption() {
  const axisStyle = { color: "#000", width: 1.3 };
  const grid = panels.map((p) => ({
    left: colLeft[p.col],
    top: PLOT_TOP + ROW_STEP * p.row,
    width: colWidth[p.col],
    height: PLOT_H,
    containLabel: false,
  }));

  const xAxis = panels.map((p, i) => {
    const bottom = p.row === 3;
    return {
      type: "value",
      gridIndex: i,
      min: -21.9,
      max: 21.9,
      splitLine: { show: false },
      axisLine: { show: bottom, onZero: false, lineStyle: axisStyle },
      axisTick: { show: bottom, length: 10, customValues: xTicks, lineStyle: axisStyle },
      axisLabel: { show: bottom, customValues: xTicks, fontSize: 21, margin: 13, color: "#000", fontFamily: FONT },
    };
  });

  const yAxis = panels.map((p, i) => {
    const left = p.col === 0;
    return {
      type: "value",
      gridIndex: i,
      min: 0.446,
      max: 7.406,
      splitLine: { show: false },
      axisLine: { show: left, onZero: false, lineStyle: axisStyle },
      axisTick: { show: left, length: 9, customValues: yTicks, lineStyle: axisStyle },
      axisLabel: { show: left, customValues: yTicks, fontSize: 21, margin: 18, color: "#000", fontFamily: FONT },
    };
  });

  const series: any[] = [];
  panels.forEach((p, i) => {
    series.push({
      type: "scatter",
      xAxisIndex: i,
      yAxisIndex: i,
      data: p.data,
      symbol: "circle",
      symbolSize: 10.6,
      itemStyle: { color: "rgba(0,0,0,0)", borderColor: p.color, borderWidth: 2.4 },
      emphasis: { disabled: true },
      z: 2,
    });
    series.push({
      type: "line",
      xAxisIndex: i,
      yAxisIndex: i,
      data: p.neg,
      symbol: "none",
      lineStyle: { color: "#000", width: 2 },
      silent: true,
      z: 4,
      markLine: {
        silent: true,
        symbol: ["none", "none"],
        label: { show: false },
        lineStyle: { color: ZERO_LINE, width: 2, type: "solid" },
        data: [{ xAxis: 0 }],
        z: 3,
      },
    });
    series.push({
      type: "line",
      xAxisIndex: i,
      yAxisIndex: i,
      data: p.pos,
      symbol: "none",
      lineStyle: { color: "#000", width: 2 },
      silent: true,
      z: 4,
    });
  });

  const graphic: any[] = [];
  panels.forEach((p) => {
    const x = colLeft[p.col];
    const w = colWidth[p.col];
    const y = STRIP_TOP + ROW_STEP * p.row;
    graphic.push({
      type: "rect",
      silent: true,
      shape: { x, y, width: w, height: PLOT_TOP - STRIP_TOP },
      style: { fill: STRIP },
    });
    graphic.push({
      type: "text",
      silent: true,
      x: x + w / 2,
      y: y + 17,
      style: { text: p.title, font: `27px ${FONT}`, fill: "#000", align: "center", verticalAlign: "middle" },
    });
  });
  graphic.push({
    type: "text",
    silent: true,
    x: 481,
    y: 1481,
    style: { text: "Deviation from own contribution", font: `27px ${FONT}`, fill: "#000", align: "center", verticalAlign: "middle" },
  });
  graphic.push({
    type: "text",
    silent: true,
    x: 25,
    y: 733,
    rotation: Math.PI / 2,
    style: { text: "Intensity of emotion", font: `27px ${FONT}`, fill: "#000", align: "center", verticalAlign: "middle" },
  });

  return {
    animation: false,
    backgroundColor: "#fff",
    textStyle: { fontFamily: FONT },
    grid,
    xAxis,
    yAxis,
    series,
    graphic,
  };
}

export default function App() {
  const ref = useRef<HTMLDivElement>(null);
  useEffect(() => {
    if (!ref.current) return;
    const chart = echarts.init(ref.current, null, { renderer: "svg" });
    chart.setOption(buildOption() as any);
    return () => chart.dispose();
  }, []);
  return <div ref={ref} style={{ position: "absolute", left: 0, top: 0, width: 911, height: 1496 }} />;
}
